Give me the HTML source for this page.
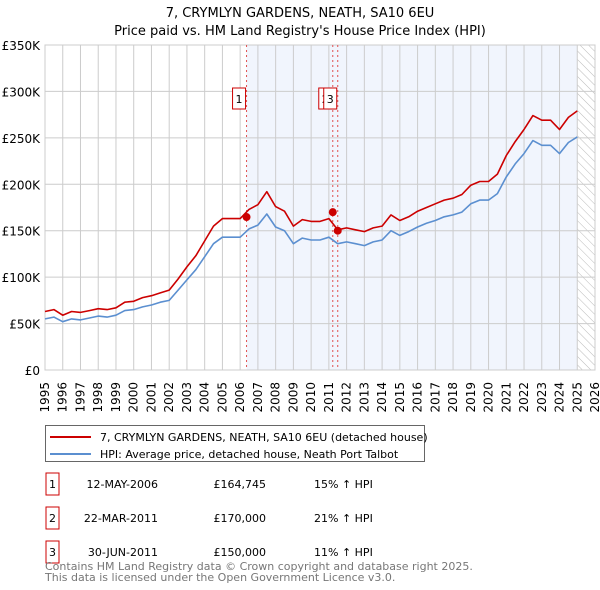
<!DOCTYPE html>
<html><head><meta charset="utf-8"><style>
body{margin:0;background:#fff;font-family:"Liberation Sans","DejaVu Sans",sans-serif;}
#wrap{position:relative;width:600px;height:590px;overflow:hidden;}
svg text{font-family:"DejaVu Sans","Liberation Sans",sans-serif;}
</style></head><body>
<div id="wrap">
<svg id="chart" width="600" height="590"></svg>
</div>
<script>
const years=[];for(let y=1995;y<=2025.01;y+=0.5)years.push(y);
const hpiValues=[55,57,52,55,54,56,58,57,59,64,65,68,70,73,75,86,97,108,122,136,143,143,143,152,156,168,154,150,136,142,140,140,143,136,138,136,134,138,140,150,145,149,154,158,161,165,167,170,179,183,183,190,208,222,233,247,242,242,233,245,251];
const priceValues=[63,65,59,63,62,64,66,65,67,73,74,78,80,83,86,98,111,123,139,155,163,163,163,173,178,192,176,171,155,162,160,160,163,151,153,151,149,153,155,167,161,165,171,175,179,183,185,189,199,203,203,211,231,246,259,274,269,269,259,272,279];
const yTicks=[0,50,100,150,200,250,300,350];
const yTickLabels=["£0","£50K","£100K","£150K","£200K","£250K","£300K","£350K"];
const xTickYears=[];for(let y=1995;y<=2026;y++)xTickYears.push(y);
const saleIds=["1","2","3"];
const saleYears=[2006.36,2011.22,2011.5];
const salePrices=[164.745,170,150];
const saleDates=["12-MAY-2006","22-MAR-2011","30-JUN-2011"];
const salePriceLabels=["£164,745","£170,000","£150,000"];
const saleHpi=["15% ↑ HPI","21% ↑ HPI","11% ↑ HPI"];

const L=45,R=595,T=45,B=370;
const x=y=>L+(y-1995)*(R-L)/31;
const yv=v=>B-v*(B-T)/350;
const NS="http://www.w3.org/2000/svg";
const svg=document.getElementById('chart');
function el(tag,attrs,parent){const e=document.createElementNS(NS,tag);for(const k in attrs)e.setAttribute(k,attrs[k]);(parent||svg).appendChild(e);return e;}
function txt(s,attrs,parent){const e=el('text',attrs,parent);e.textContent=s;return e;}

let t=txt("7, CRYMLYN GARDENS, NEATH, SA10 6EU",{x:300,y:17,'text-anchor':'middle','font-size':13,fill:'#000'});


t=txt("Price paid vs. HM Land Registry's House Price Index (HPI)",{x:300,y:35,'text-anchor':'middle','font-size':13,fill:'#000'});



const defs=el('defs',{});
const pat=el('pattern',{id:'hatch',width:6,height:6,patternUnits:'userSpaceOnUse',patternTransform:'rotate(-45)'},defs);
el('line',{x1:0,y1:0,x2:0,y2:6,stroke:'#bbb','stroke-width':1},pat);
let r=el('rect',{x:x(saleYears[0]),y:T,width:x(2025)-x(saleYears[0]),height:B-T,fill:'#eef3fc',opacity:0.8});


r=el('rect',{x:x(2025),y:T,width:R-x(2025),height:B-T,fill:'url(#hatch)'});



xTickYears.forEach(yr=>{
  const g=el('line',{x1:x(yr),y1:T,x2:x(yr),y2:B,stroke:'#ccc','stroke-width':1});
  
  
  const lx=x(yr)+4,ly=382;
  const lab=txt(String(yr),{x:lx,y:ly,'font-size':12,fill:'#000','text-anchor':'end',transform:`rotate(-90 ${lx} ${ly})`});
  
  
});
yTicks.forEach((v,i)=>{
  const g=el('line',{x1:L,y1:yv(v),x2:R,y2:yv(v),stroke:'#ccc','stroke-width':1});
  
  
  const lab=txt(yTickLabels[i],{x:40,y:yv(v)+5,'font-size':12,fill:'#000','text-anchor':'end'});
  
  
});
el('rect',{x:L,y:T,width:R-L,height:B-T,fill:'none',stroke:'#ccc'});

saleYears.forEach((sy,i)=>{
  const l=el('line',{x1:x(sy),y1:T,x2:x(sy),y2:B,stroke:'#e05050','stroke-width':1,'stroke-dasharray':'2,3'});
  
  
});

function path(vals,color,name){
  const d=vals.map((v,i)=>(i?'L':'M')+x(years[i]).toFixed(1)+','+yv(v).toFixed(1)).join('');
  const p=el('path',{d,fill:'none',stroke:color,'stroke-width':1.6,'stroke-linejoin':'round'});
  
  
}
path(hpiValues,'#5b8fd0','hpi-line');
path(priceValues,'#cc0000','price-paid-line');

saleYears.forEach((sy,i)=>{
  const c=el('circle',{cx:x(sy),cy:yv(salePrices[i]),r:4,fill:'#cc0000'});
  
  
});
saleYears.forEach((sy,i)=>{
  const bx=x(sy)-14;
  const g=el('g',{});
  
  
  el('rect',{x:bx,y:88,width:13,height:21,fill:'#fff',stroke:'#cc0000','stroke-width':1},g);
  txt(saleIds[i],{x:bx+6.5,y:103,'font-size':11,'text-anchor':'middle',fill:'#000'},g);
});

const lg=el('g',{});


el('rect',{x:45.5,y:425.5,width:379,height:36,fill:'#fff',stroke:'#666'},lg);
el('line',{x1:50,y1:437,x2:91,y2:437,stroke:'#cc0000','stroke-width':2},lg);
txt("7, CRYMLYN GARDENS, NEATH, SA10 6EU (detached house)",{x:100,y:441,'font-size':11,fill:'#000'},lg);
el('line',{x1:50,y1:454,x2:91,y2:454,stroke:'#5b8fd0','stroke-width':2},lg);
txt("HPI: Average price, detached house, Neath Port Talbot",{x:100,y:458,'font-size':11,fill:'#000'},lg);

const rowY=[484,518,552];
saleIds.forEach((id,i)=>{
  const g=el('g',{});
  
  
  el('rect',{x:46,y:rowY[i]-11,width:13,height:22,fill:'#fff',stroke:'#cc0000'},g);
  txt(id,{x:52.5,y:rowY[i]+4,'font-size':11,'text-anchor':'middle'},g);
  txt(saleDates[i],{x:158,y:rowY[i]+4,'font-size':11,'text-anchor':'end'},g);
  txt(salePriceLabels[i],{x:266,y:rowY[i]+4,'font-size':11,'text-anchor':'end'},g);
  txt(saleHpi[i],{x:314,y:rowY[i]+4,'font-size':11},g);
});
t=txt("Contains HM Land Registry data © Crown copyright and database right 2025.",{x:45,y:570,'font-size':11,fill:'#777'});


t=txt("This data is licensed under the Open Government Licence v3.0.",{x:45,y:581,'font-size':11,fill:'#777'});


</script>
</body></html>
